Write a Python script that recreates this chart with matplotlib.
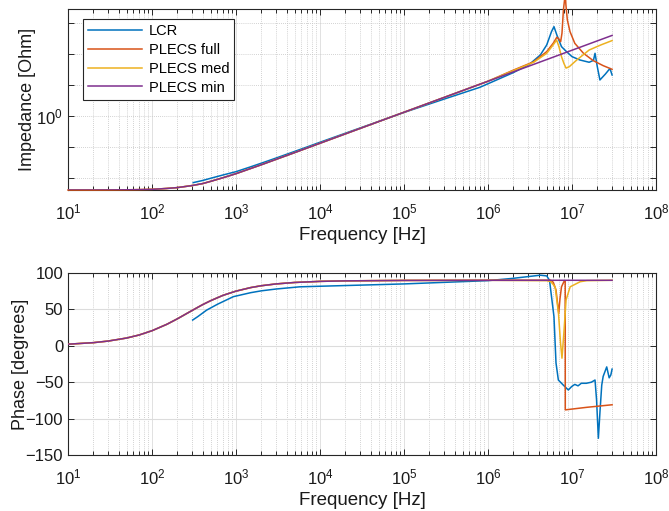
import matplotlib
matplotlib.use("Agg")
import matplotlib.pyplot as plt
from matplotlib.ticker import FixedLocator, FixedFormatter, NullFormatter

plt.rcParams['font.family'] = ['Liberation Sans', 'DejaVu Sans']
plt.rcParams['mathtext.fontset'] = 'custom'
plt.rcParams['mathtext.rm'] = 'Liberation Sans'
plt.rcParams['mathtext.it'] = 'Liberation Sans:italic'
plt.rcParams['mathtext.default'] = 'regular'

# ---------------- data ----------------
series_names = ['LCR', 'PLECS full', 'PLECS med', 'PLECS min']
series_colors = ['#0072BD', '#D95319', '#EDB120', '#7E2F8E']

# shared low/mid-frequency model response (identical for all PLECS variants)
f_model_low = [10, 20, 30, 50, 70, 100, 150, 200, 300, 400, 500, 700, 1e3, 1.5e3,
               2e3, 3e3, 5e3, 1e4, 2e4, 5e4, 1e5, 2e5, 5e5, 1e6]
z_model_low = [0.0041, 0.0041, 0.00412, 0.00416, 0.00421, 0.0043, 0.0046, 0.0049,
               0.0057, 0.0066, 0.0078, 0.0102, 0.0138, 0.0203, 0.0267, 0.0399,
               0.066, 0.132, 0.264, 0.66, 1.32, 2.64, 6.6, 13.2]

# impedance magnitude [Ohm]
f_z_lcr = [310, 400, 500, 700, 1e3, 1.5e3, 2e3, 3e3, 5e3, 1e4, 3e4, 1e5, 3e5, 8e5,
           2e6, 3.16e6, 4.2e6, 5e6, 5.7e6, 6.1e6, 6.6e6, 7.5e6, 8.6e6, 1.0e7,
           1.24e7, 1.6e7, 1.8e7, 1.88e7, 2.0e7, 2.15e7, 2.5e7, 2.83e7, 3.0e7]
z_lcr = [0.0071, 0.0083, 0.0098, 0.0125, 0.016, 0.023, 0.03, 0.044, 0.072, 0.142,
         0.41, 1.3, 3.5, 8.4, 25, 48, 93, 195, 525, 760, 410, 172, 119, 82, 64, 54,
         62, 105, 39, 14.5, 22.6, 34, 21]

f_z_full_hi = [2e6, 3.5e6, 5e6, 6e6, 6.6e6, 7.0e6, 7.33e6, 7.6e6, 7.9e6, 8.15e6,
               8.3e6, 8.45e6, 8.8e6, 9.47e6, 1.08e7, 1.37e7, 1.79e7, 2.35e7, 3e7]
z_full_hi = [30, 56, 119, 225, 347, 300, 250, 470, 2600, 5500, 10000, 4000, 1250,
             525, 220, 105, 61, 42, 32]

f_z_med_hi = [2e6, 3.5e6, 5e6, 6e6, 6.56e6, 7.0e6, 7.5e6, 8.0e6, 8.5e6, 9.3e6,
              1.14e7, 1.6e7, 2.2e7, 3e7]
z_med_hi = [29, 54, 105, 200, 282, 170, 82, 50, 35, 39, 64, 134, 195, 270]

f_z_min_hi = [2e6, 5e6, 1e7, 2e7, 3e7]
z_min_hi = [26.4, 66, 132, 264, 396]

# phase [degrees]
f_model_ph_low = [10, 20, 30, 50, 70, 100, 150, 200, 300, 400, 500, 700, 1e3,
                  1.5e3, 2e3, 3e3, 5e3, 1e4, 2e4, 1e5, 1e6]
ph_model_low = [2.2, 4.3, 6.5, 10.7, 14.8, 20.7, 29.5, 37, 48.5, 56.5, 62, 69.3,
                75.1, 80, 82.5, 85, 87, 88.5, 89.2, 89.8, 90]

f_ph_lcr = [305, 350, 447, 600, 930, 1.5e3, 2e3, 3e3, 5.7e3, 1e4, 1e5, 1e6, 2e6,
            4.2e6, 5e6, 5.4e6, 6.1e6, 6.45e6, 6.88e6, 7.88e6, 9.04e6, 9.9e6,
            1.08e7, 1.18e7, 1.29e7, 1.48e7, 1.7e7, 1.88e7, 1.96e7, 2.06e7,
            2.16e7, 2.26e7, 2.35e7, 2.59e7, 2.77e7, 2.9e7, 3e7]
ph_lcr = [35.4, 40, 49, 57, 67.5, 73, 75.5, 78, 81, 81.8, 85, 89.5, 92.7, 97, 96,
          90, 40, -23.6, -47, -54, -60.7, -56, -53, -55, -51.5, -51.5, -50, -47,
          -74, -127, -88, -54, -42, -29, -44, -40, -32]

f_ph_full_hi = [2e6, 5.6e6, 6.0e6, 6.45e6, 6.95e6, 7.2e6, 7.5e6, 8.0e6, 8.3e6,
                8.32e6, 1.5e7, 3e7]
ph_full_hi = [90, 90, 87, 76.6, 44.6, 65, 81, 88, 89, -88, -84.5, -81]

f_ph_med_hi = [5.0e6, 5.6e6, 6.3e6, 6.9e6, 7.3e6, 7.6e6, 8.0e6, 8.5e6, 9.5e6,
               1.25e7, 1.5e7, 3e7]
ph_med_hi = [89.5, 88, 81, 45, 4, -17, 17.5, 63, 81, 88, 89.5, 90]

f_ph_min_hi = [1e7, 3e7]
ph_min_hi = [90, 90]

x_ticks = [1e1, 1e2, 1e3, 1e4, 1e5, 1e6, 1e7, 1e8]
x_tick_labels = ['$10^{%d}$' % k for k in range(1, 9)]
z_ticks = [1e-2, 1e-1, 1e0, 1e1, 1e2, 1e3]
z_tick_labels = ['', '', '$10^{0}$', '', '', '']
ph_ticks = [-150, -100, -50, 0, 50, 100]

# ---------------- figure ----------------
fig = plt.figure(figsize=(6.69, 5.11), dpi=100)
ax1 = fig.add_axes([68 / 669, 1 - 190 / 511, 588 / 669, 181 / 511])
ax2 = fig.add_axes([68 / 669, 1 - 455 / 511, 588 / 669, 182 / 511])

edge = '#262626'
minor_x = [m * 10 ** k for k in range(1, 8) for m in range(2, 10)]


def style_axis(ax, y_dotted):
    ax.set_xscale('log')
    ax.set_xlim(10, 1e8)
    ax.xaxis.set_major_locator(FixedLocator(x_ticks))
    ax.xaxis.set_major_formatter(FixedFormatter(x_tick_labels))
    ax.xaxis.set_minor_locator(FixedLocator(minor_x))
    ax.xaxis.set_minor_formatter(NullFormatter())
    for s in ax.spines.values():
        s.set_color(edge)
        s.set_linewidth(0.8)
    ax.tick_params(which='both', direction='in', top=True, right=True,
                   color=edge, labelcolor='#1a1a1a', labelsize=12, width=0.7)
    ax.tick_params(which='major', length=4.5)
    ax.tick_params(which='minor', length=2.8)
    ax.tick_params(axis='x', which='major', pad=9)
    ax.grid(True, axis='x', which='major', color='#dcdcdc', lw=0.6, ls='-')
    ax.grid(True, axis='x', which='minor', color='#c4c4c4', lw=0.6, ls=(0, (1, 1.5)))
    if y_dotted:
        ax.grid(True, axis='y', which='major', color='#c4c4c4', lw=0.6, ls=(0, (1, 1.5)))
    else:
        ax.grid(True, axis='y', which='major', color='#dcdcdc', lw=0.8, ls='-')
    ax.set_axisbelow(True)
    ax.set_xlabel('Frequency [Hz]', fontsize=13.5, color='#1a1a1a', labelpad=3)


# impedance
z_freqs = [f_z_lcr, f_model_low + f_z_full_hi, f_model_low + f_z_med_hi,
           f_model_low + f_z_min_hi]
z_vals = [z_lcr, z_model_low + z_full_hi, z_model_low + z_med_hi,
          z_model_low + z_min_hi]
for i, (fx, zy) in enumerate(zip(z_freqs, z_vals)):
    ax1.plot(fx, zy, color=series_colors[i], lw=1.1, label=series_names[i],
             zorder=3 + i * 0.1, clip_on=(i != 1))
ax1.set_yscale('log')
ax1.set_ylim(0.0041, 10 ** 3.45)
ax1.yaxis.set_major_locator(FixedLocator(z_ticks))
ax1.yaxis.set_major_formatter(FixedFormatter(z_tick_labels))
ax1.yaxis.set_minor_locator(FixedLocator([]))
style_axis(ax1, y_dotted=True)
ax1.set_ylabel('Impedance [Ohm]', fontsize=13, color='#1a1a1a')
ax1.yaxis.set_label_coords(-0.054, 0.5)

leg = ax1.legend(loc='upper left', bbox_to_anchor=(0.0255, 0.9448), borderaxespad=0,
                 fontsize=10.5, fancybox=False, framealpha=1, edgecolor=edge,
                 handlelength=3.7, handletextpad=0.45, labelspacing=0.33,
                 borderpad=0.35)
leg.get_frame().set_linewidth(0.8)
leg.set_zorder(10)

# phase
ph_freqs = [f_ph_lcr, f_model_ph_low + f_ph_full_hi, f_model_ph_low + f_ph_med_hi,
            f_model_ph_low + f_ph_min_hi]
ph_vals = [ph_lcr, ph_model_low + ph_full_hi, ph_model_low + ph_med_hi,
           ph_model_low + ph_min_hi]
for i, (fx, py) in enumerate(zip(ph_freqs, ph_vals)):
    ax2.plot(fx, py, color=series_colors[i], lw=1.1, zorder=3 + i * 0.1)
ax2.set_ylim(-150, 100)
ax2.yaxis.set_major_locator(FixedLocator(ph_ticks))
style_axis(ax2, y_dotted=False)
ax2.set_ylabel('Phase [degrees]', fontsize=13, color='#1a1a1a')
ax2.yaxis.set_label_coords(-0.066, 0.5)

fig.savefig('out.png', dpi=100)
